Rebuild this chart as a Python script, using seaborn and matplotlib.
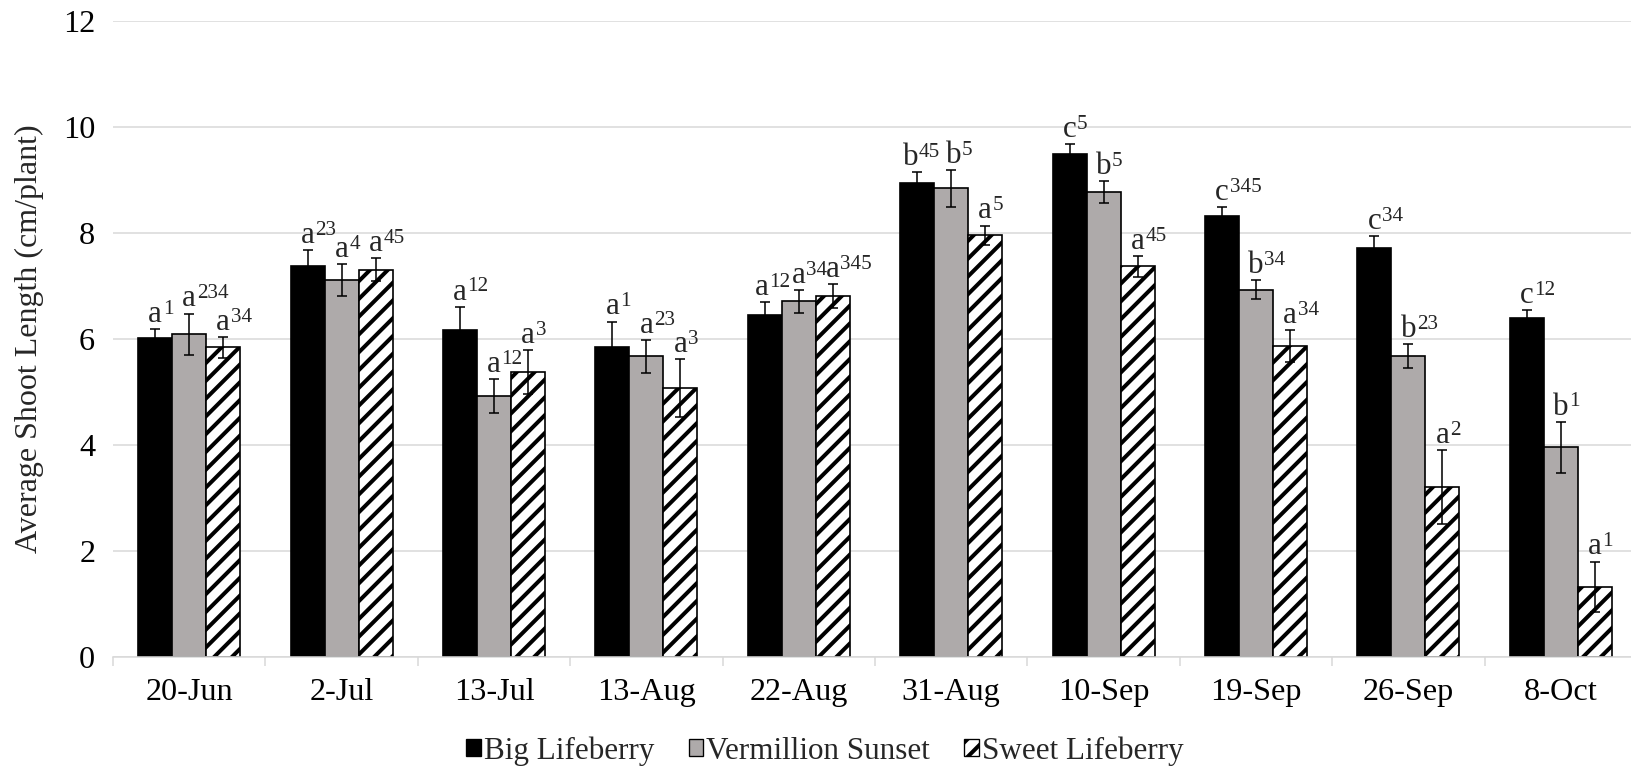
import numpy as np
import pandas as pd
import matplotlib
matplotlib.use("Agg")
import matplotlib.pyplot as plt
import seaborn as sns
from matplotlib.patches import Patch

# ---- data -------------------------------------------------------------
dates = ["20-Jun", "2-Jul", "13-Jul", "13-Aug", "22-Aug",
         "31-Aug", "10-Sep", "19-Sep", "26-Sep", "8-Oct"]
cultivars = ["Big Lifeberry", "Vermillion Sunset", "Sweet Lifeberry"]

big_mean = [6.01, 7.38, 6.17, 5.84, 6.45, 8.94, 9.50, 8.33, 7.72, 6.40]
big_se = [0.17, 0.29, 0.44, 0.49, 0.24, 0.21, 0.18, 0.16, 0.22, 0.14]
verm_mean = [6.09, 7.11, 4.92, 5.67, 6.71, 8.84, 8.77, 6.93, 5.68, 3.96]
verm_se = [0.39, 0.30, 0.32, 0.31, 0.21, 0.35, 0.21, 0.18, 0.23, 0.48]
sweet_mean = [5.84, 7.31, 5.38, 5.07, 6.81, 7.96, 7.37, 5.87, 3.21, 1.32]
sweet_se = [0.19, 0.21, 0.41, 0.55, 0.23, 0.18, 0.20, 0.30, 0.70, 0.48]

# significance letters (cultivar within date) and superscripts (date within cultivar)
big_letter = ["a", "a", "a", "a", "a", "b", "c", "c", "c", "c"]
big_sup = ["1", "23", "12", "1", "12", "45", "5", "345", "34", "12"]
verm_letter = ["a", "a", "a", "a", "a", "b", "b", "b", "b", "b"]
verm_sup = ["234", "4", "12", "23", "34", "5", "5", "34", "23", "1"]
sweet_letter = ["a", "a", "a", "a", "a", "a", "a", "a", "a", "a"]
sweet_sup = ["34", "45", "3", "3", "345", "5", "45", "34", "2", "1"]

means = [big_mean, verm_mean, sweet_mean]
ses = [big_se, verm_se, sweet_se]
letters = [big_letter, verm_letter, sweet_letter]
sups = [big_sup, verm_sup, sweet_sup]

# small sideways nudges (points) for crowded labels: (cultivar index, date index)
label_nudge = {(0, 5): -3.0, (1, 5): 1.0, (0, 4): -1.5}

colors = ["#000000", "#AEAAAA", "#FFFFFF"]
GRID = "#D9D9D9"

df = pd.DataFrame({
    "date": dates * 3,
    "cultivar": np.repeat(cultivars, len(dates)),
    "length": big_mean + verm_mean + sweet_mean,
})

# ---- style ------------------------------------------------------------
sns.set_theme(style="white")
plt.rcParams["font.family"] = ["Liberation Serif", "DejaVu Serif"]
plt.rcParams["hatch.linewidth"] = 1.8
plt.rcParams["hatch.color"] = "black"

DPI = 160
W, H = 1631, 771
fig = plt.figure(figsize=(W / DPI, H / DPI), dpi=DPI)
fig.patch.set_facecolor("white")
ax = fig.add_axes([113 / W, 1 - 657 / H, 1524 / W, 636 / H])

sns.barplot(data=df, x="date", y="length", hue="cultivar",
            order=dates, hue_order=cultivars, palette=colors,
            width=0.67, errorbar=None, saturation=1,
            edgecolor="black", linewidth=0.75, legend=False, ax=ax)

bar_groups = list(ax.containers)

# hatched white bars for the third cultivar
for p in bar_groups[2]:
    p.set_facecolor("white")
    p.set_hatch("///")
    p.set_edgecolor("black")

# error bars and significance labels
for ci, cont in enumerate(bar_groups):
    xs = [p.get_x() + p.get_width() / 2 for p in cont.patches]
    ax.errorbar(xs, means[ci], yerr=ses[ci], fmt="none", ecolor="black",
                elinewidth=0.7, capsize=2.4, capthick=0.7, zorder=4)
    for di, (x, m, s, let, sup) in enumerate(
            zip(xs, means[ci], ses[ci], letters[ci], sups[ci])):
        dx = label_nudge.get((ci, di), 0.0)
        t = ax.annotate(let, xy=(x, m + s), xytext=(dx, 3.2),
                        textcoords="offset points", ha="center",
                        va="baseline", fontsize=14, zorder=5)
        ax.annotate(sup, xy=(1, 0), xycoords=t, xytext=(0.3, 6.8),
                    textcoords="offset points", ha="left", va="baseline",
                    fontsize=9.5, zorder=5)

# axes
ax.set_xlim(-0.5, len(dates) - 0.5)
ax.set_ylim(0, 12)
ax.set_yticks(range(0, 13, 2))
ax.set_xticks(range(len(dates)))
ax.set_xticklabels(dates)
ax.set_xticks(np.arange(-0.5, len(dates), 1.0), minor=True)
ax.set_xlabel("")
ax.set_ylabel("Average Shoot Length (cm/plant)", fontsize=14.4)
ax.yaxis.set_label_coords((29 - 113) / 1524, 0.5)
ax.yaxis.label.set_va("center")

ax.tick_params(axis="x", which="major", length=0, pad=9.5, labelsize=14.5,
               colors="black")
ax.tick_params(axis="x", which="minor", length=4, width=0.7, color=GRID,
               bottom=True)
ax.tick_params(axis="y", which="both", left=False, length=0, pad=8,
               labelsize=14.5, colors="black")

ax.yaxis.grid(True, color=GRID, linewidth=0.7)
ax.xaxis.grid(False)
ax.set_axisbelow(True)
for side in ["left", "right", "top"]:
    ax.spines[side].set_visible(False)
ax.spines["bottom"].set_color(GRID)
ax.spines["bottom"].set_linewidth(0.7)

handles = [
    Patch(facecolor=colors[0], edgecolor="black", linewidth=0.6),
    Patch(facecolor=colors[1], edgecolor="black", linewidth=0.6),
    Patch(facecolor="white", edgecolor="black", linewidth=0.6, hatch="///"),
]
fig.legend(handles, cultivars, loc="center",
           bbox_to_anchor=(825 / W, 1 - 751 / H), ncol=3, frameon=False,
           fontsize=14, handlelength=0.47, handleheight=0.47,
           handletextpad=0.1, columnspacing=1.1)

fig.savefig("out.png", dpi=DPI, facecolor="white")
